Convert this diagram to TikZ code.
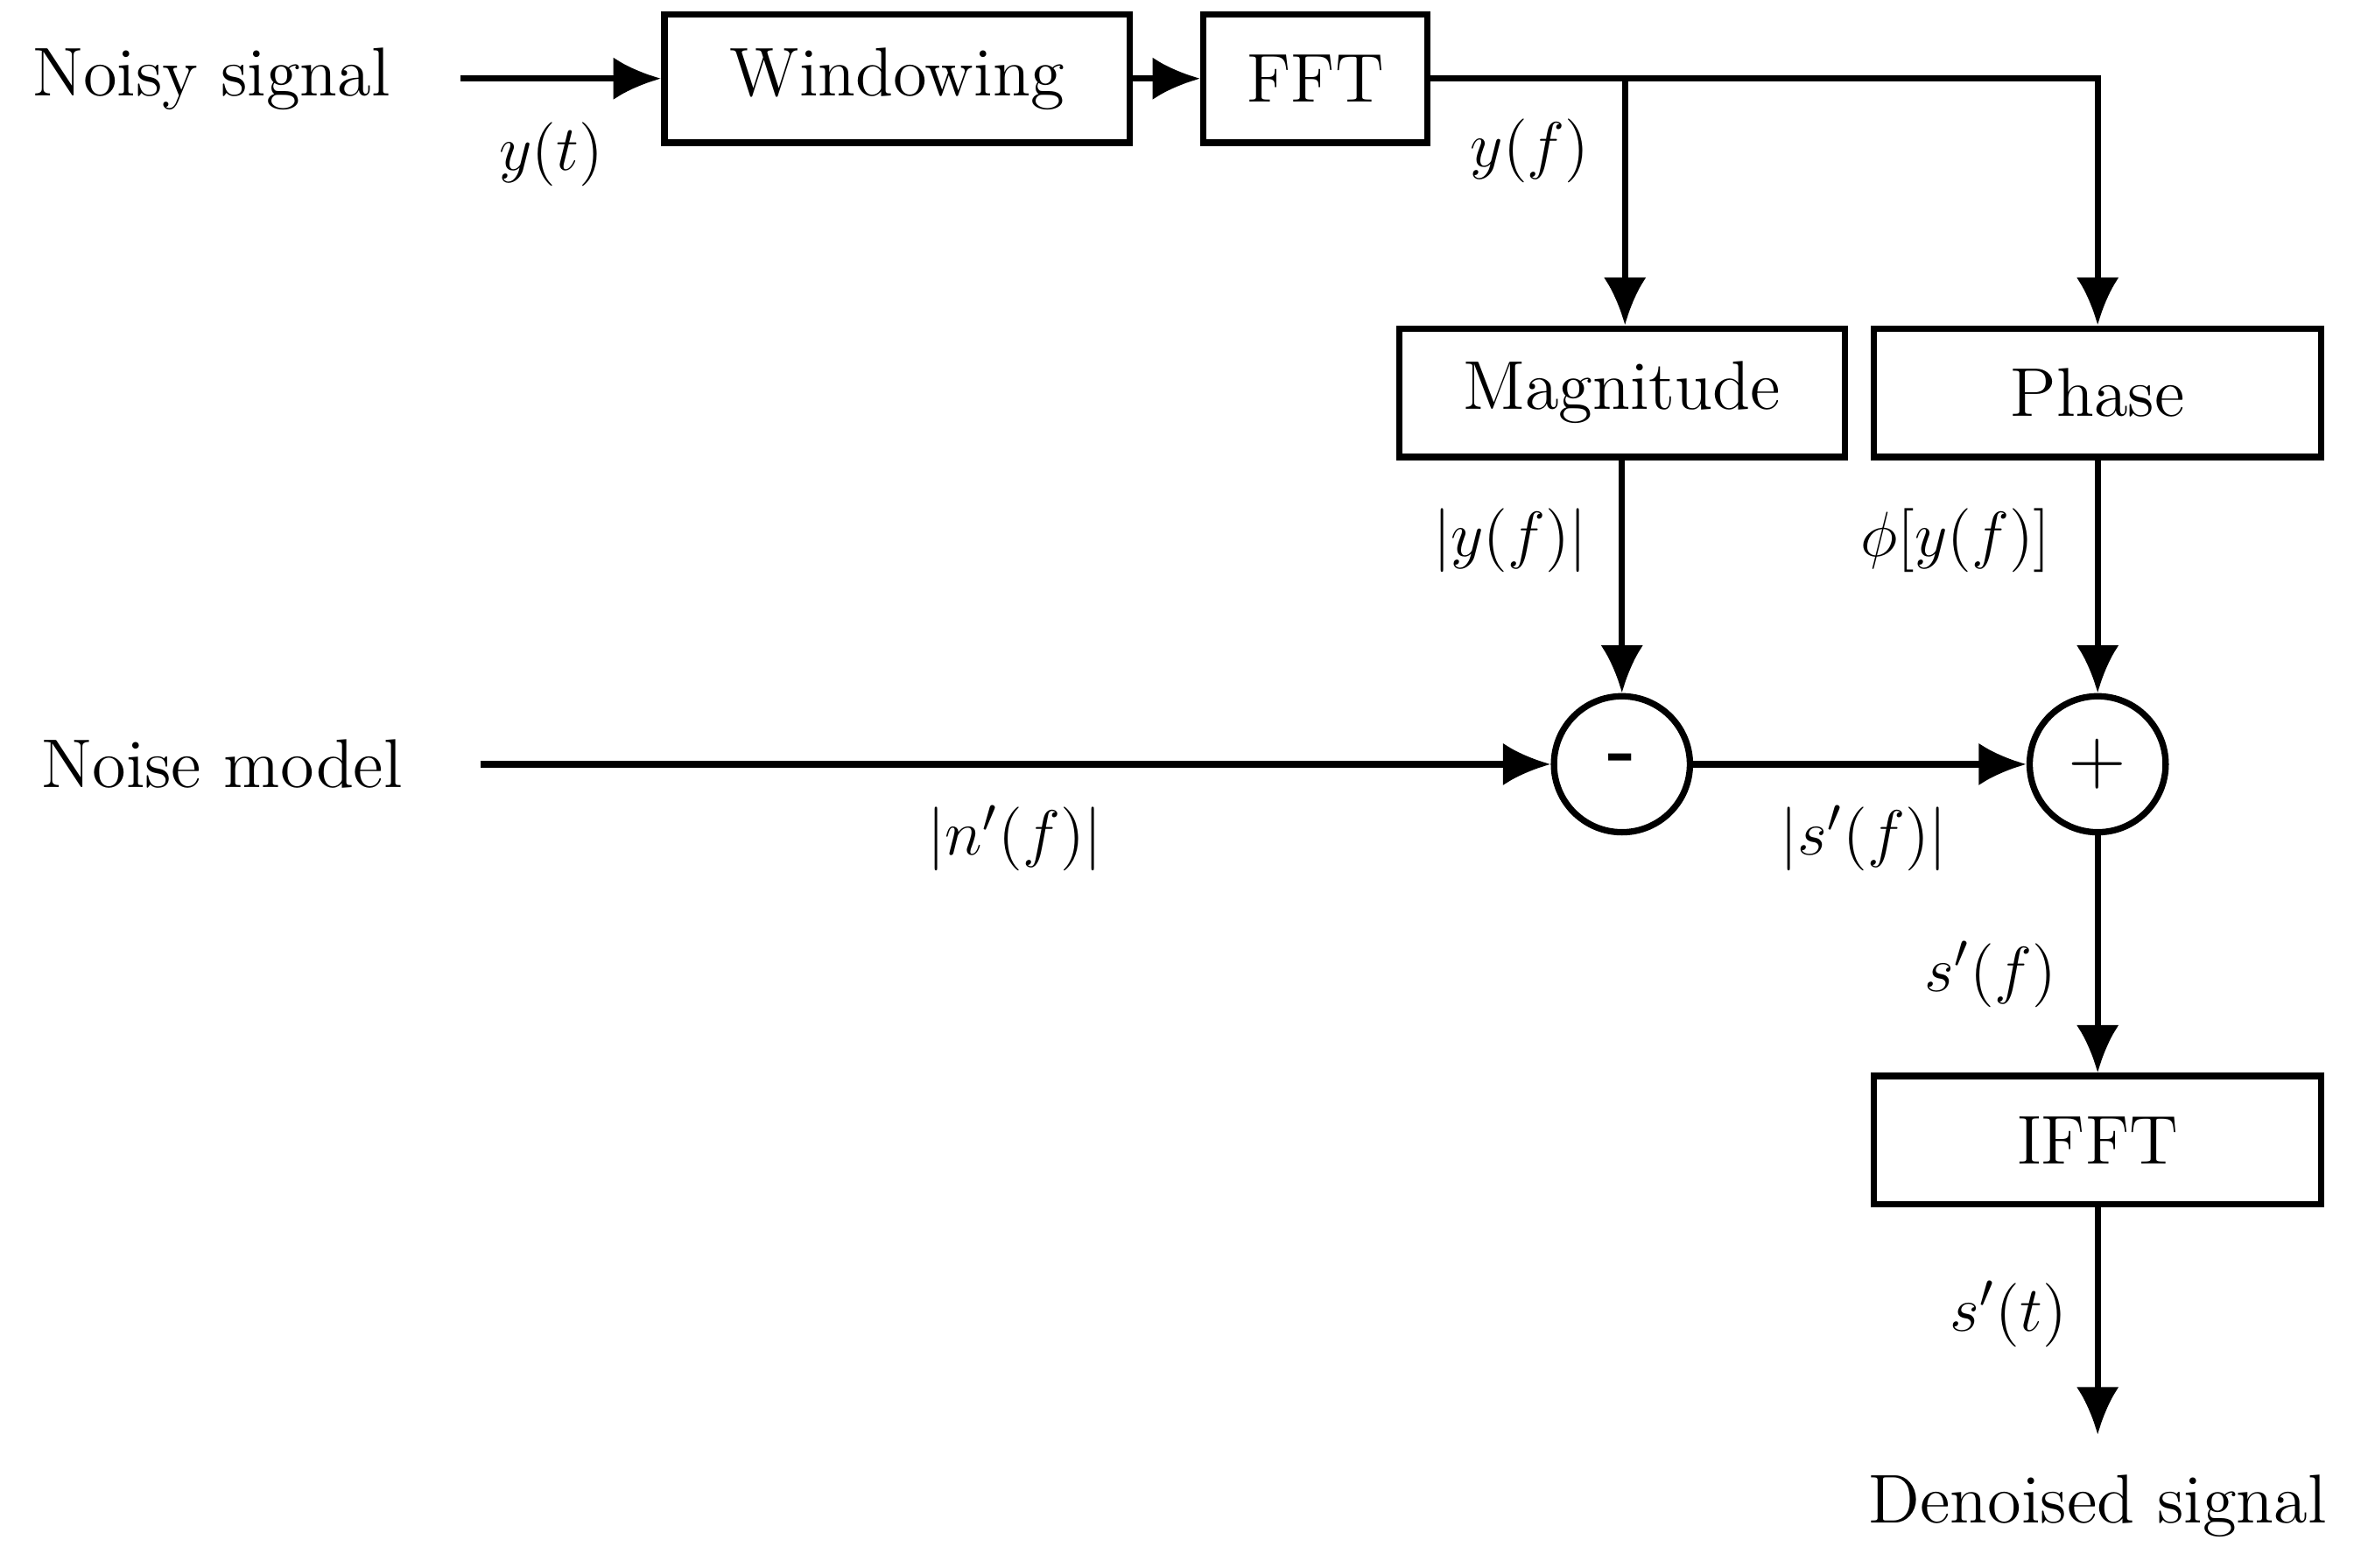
\documentclass[tikz,border=0pt]{standalone}
\usetikzlibrary{arrows.meta}
\begin{document}
\begin{tikzpicture}[x=0.01cm, y=-0.01cm, line width=1.2pt, font=\fontsize{13}{15}\selectfont,
    block/.style={draw, minimum height=0.85cm, inner sep=0pt},
    junction/.style={draw, circle, minimum size=0.9cm, inner sep=0pt},
    flow/.style={-{Latex[length=9pt,width=8pt]}}]
 \useasboundingbox (0,0) rectangle (1568,1038);

    % Blocks
 \node (noisy) at (140,52) {Noisy signal};
 \node[block, minimum width=3.08cm] (win) at (594,52) {Windowing};
 \node[block, minimum width=1.48cm] (fft) at (871,52) {FFT};
 \node[block, minimum width=2.95cm] (mag) at (1074,260) {Magnitude};
 \node[block, minimum width=2.96cm] (phase) at (1389,260) {Phase};
 \node[junction] (sub) at (1074,506) {\textbf{\Large -}};
 \node[junction] (add) at (1389,506) {\Large$\mathbf{+}$};
 \node (noise) at (147,506) {Noise model};
 \node[block, minimum width=2.96cm] (ifft) at (1389,755) {IFFT};
 \node (out) at (1389,997) {Denoised signal};
 \coordinate (nin) at (305,52);
 \coordinate (min) at (318,506);
 \coordinate (split) at (1076,52);
 \coordinate (end) at (1389,950);

    % Connectors
 \draw[flow] (nin) -- (win);
 \draw[flow] (win) -- (fft);
 \draw[flow] (fft.east) -| (phase.north);
 \draw[flow] (split) -- (split |- mag.north);
 \draw[flow] (mag) -- (sub);
 \draw[flow] (phase) -- (add);
 \draw[flow] (min) -- (sub);
 \draw[flow] (sub) -- (add);
 \draw[flow] (add) -- (ifft);
 \draw[flow] (ifft) -- (end);

    % Labels
 \node at (365,102) {$y(t)$};
 \node at (1013,100) {$y(f)$};
 \node at (1000,358) {$|y(f)|$};
 \node at (1295,358) {$\phi[y(f)]$};
 \node at (672,555) {$|n'(f)|$};
 \node at (1234,555) {$|s'(f)|$};
 \node at (1318,645) {$s'(f)$};
 \node at (1330,870) {$s'(t)$};
\end{tikzpicture}
\end{document}
